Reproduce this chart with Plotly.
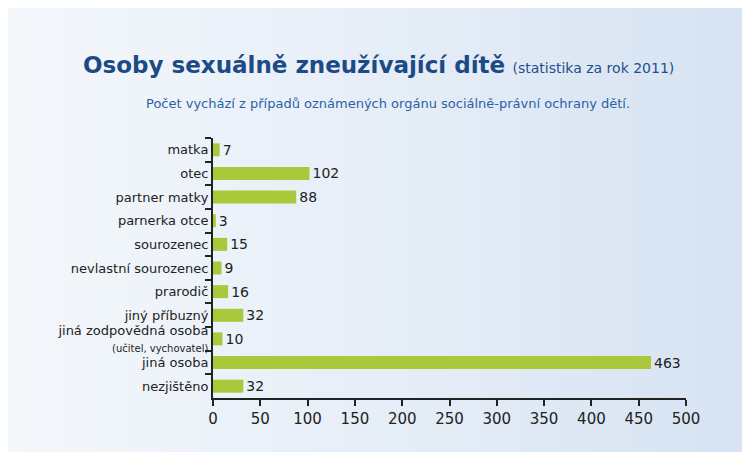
import plotly.graph_objects as go

categories = ["matka", "otec", "partner matky", "parnerka otce", "sourozenec",
              "nevlastní sourozenec", "prarodič", "jiný příbuzný",
              "jiná zodpovědná osoba<br><span style='font-size:10px'>(učitel, vychovatel)</span>",
              "jiná osoba", "nezjištěno"]
values = [7, 102, 88, 3, 15, 9, 16, 32, 10, 463, 32]
xticks = [0, 50, 100, 150, 200, 250, 300, 350, 400, 450, 500]

fig = go.Figure(go.Bar(
    x=values, y=categories, orientation="h",
    marker=dict(color="#a9c93b", line=dict(width=0)),
    width=0.55,
    text=[str(v) for v in values], textposition="outside", cliponaxis=False,
    textfont=dict(family="DejaVu Sans", size=14, color="#222"),
))

shapes = []
n = 40
for i in range(n):
    t = i / (n - 1)
    r = int(255 + (200 - 255) * t)
    g = int(255 + (216 - 255) * t)
    b = int(255 + (238 - 255) * t)
    shapes.append(dict(type="rect", xref="paper", yref="paper", layer="below",
                       x0=-1 + i * (3.0 / n), x1=-1 + (i + 1) * (3.0 / n) + 0.01,
                       y0=-1, y1=2, line=dict(width=0), fillcolor=f"rgb({r},{g},{b})"))

fig.update_layout(
    width=750, height=452,
    margin=dict(l=205, r=72, t=130, b=62),
    paper_bgcolor="#e6edf7", plot_bgcolor="rgba(0,0,0,0)",
    shapes=shapes,
    showlegend=False,
    bargap=0.45,
    uniformtext=dict(minsize=14, mode="show"),
    font=dict(family="DejaVu Sans", color="#222"),
    xaxis=dict(range=[0, 500], tickvals=xticks, showgrid=False, zeroline=False,
               showline=True, linecolor="#222", linewidth=2, ticks="outside",
               ticklen=6, tickwidth=2, tickcolor="#222",
               tickfont=dict(size=15, color="#222")),
    yaxis=dict(autorange="reversed", showgrid=False, showline=True, linecolor="#222",
               linewidth=2, ticks="outside", ticklen=6, tickwidth=2, tickcolor="#222",
               tickson="boundaries", tickfont=dict(size=13, color="#222")),
    annotations=[
        dict(text="<b>Osoby sexuálně zneužívající dítě</b> <span style='font-size:14px;color:#1e4f8c'>(statistika za rok 2011)</span>",
             xref="paper", yref="paper", x=0.35, y=1.0, yanchor="bottom", xanchor="center",
             yshift=58, showarrow=False,
             font=dict(family="DejaVu Sans", size=23, color="#1b4a86")),
        dict(text="Počet vychází z případů oznámených orgánu sociálně-právní ochrany dětí.",
             xref="paper", yref="paper", x=0.37, y=1.0, yanchor="bottom", xanchor="center",
             yshift=25, showarrow=False,
             font=dict(family="DejaVu Sans", size=13, color="#2a62a8")),
    ],
)

fig.write_html("out.html")
